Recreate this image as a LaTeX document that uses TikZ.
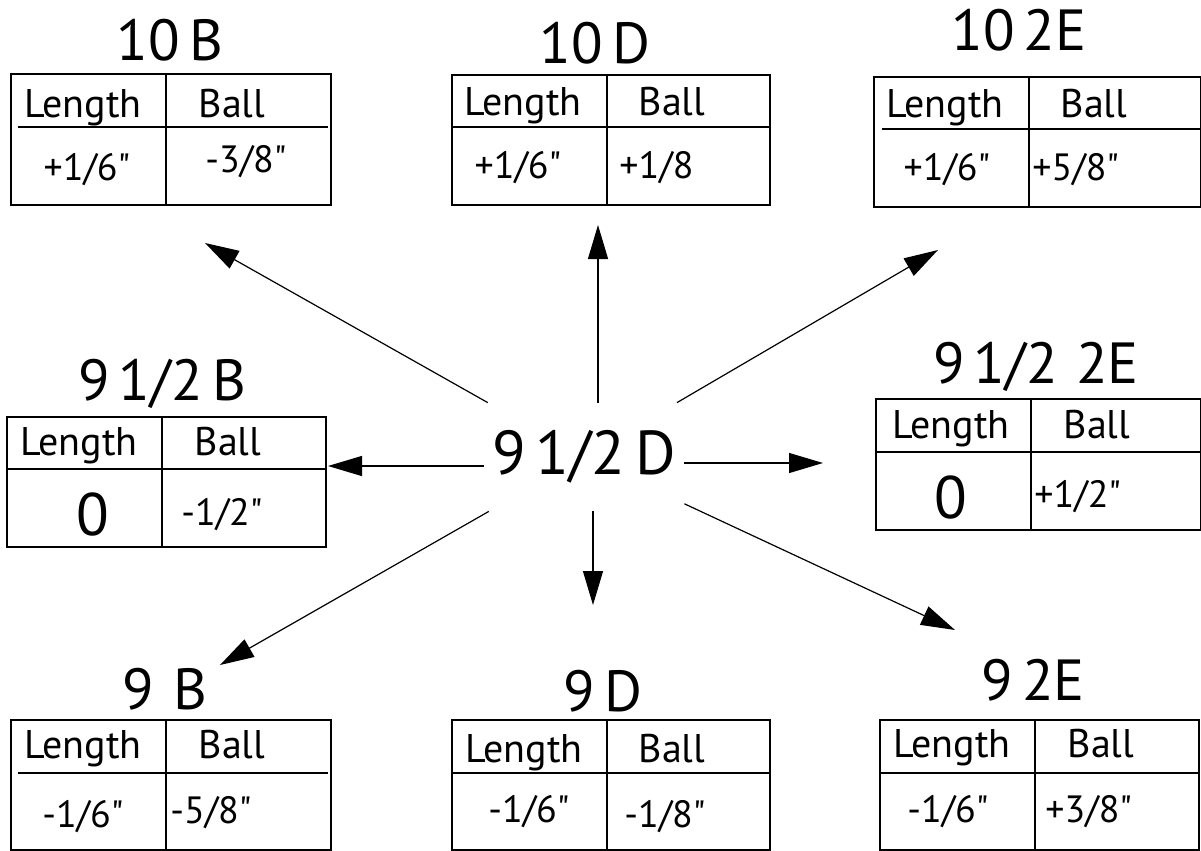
\documentclass[tikz,border=0pt]{standalone}
\usepackage{fontspec}
\setmainfont{PT Sans}[WordSpace=0.6]
\usepackage{tikz}
\usetikzlibrary{calc}
\usetikzlibrary{arrows.meta}

\begin{document}
\begin{tikzpicture}[x=0.5pt,y=-0.5pt,
		frame/.style={line width=1.2pt},
		title/.style={anchor=base, inner sep=0pt, font=\fontsize{29}{29}\selectfont},
		head/.style={anchor=base, inner sep=0pt, font=\fontsize{20}{20}\selectfont},
		val/.style={anchor=base, inner sep=0pt, font=\fontsize{19}{19}\selectfont},
		ballval/.style={anchor=base west, inner sep=0pt, font=\fontsize{19}{19}\selectfont},
		zero/.style={anchor=base, inner sep=0pt, font=\fontsize{30}{30}\selectfont},
		arr/.style={line width=0.6pt, -{Triangle[length=17pt,width=10pt]}}]
				\useasboundingbox (0,0) rectangle (1201,851);
				
				% centre
				\node[font=\fontsize{31}{31}\selectfont, minimum width=100pt, minimum height=54pt, inner sep=0pt] (c) at (584,457) {9 1/2 D};
				
				% 10 B
				\draw[frame] (11,74) rectangle (331,205) (166,74) -- (166,205) (18,127) -- (328,127);
				\node[title] (h10B) at (170,61) {10 B};
				\node[head] (len10B) at (83,117) {Length};
				\node[head] (ball10B) at (232,117) {Ball};
				\node[val] (lv10B) at (87,180) {+1/6\textquotedbl};
				\node[ballval] (bv10B) at (205,172) {-3/8\textquotedbl};
				
				% 10 D
				\draw[frame] (452,75) rectangle (770,205) (607,75) -- (607,205) (452,127) -- (770,127);
				\node[title] (h10D) at (595,63) {10 D};
				\node[head] (len10D) at (523,115) {Length};
				\node[head] (ball10D) at (672,115) {Ball};
				\node[val] (lv10D) at (518,178) {+1/6\textquotedbl};
				\node[ballval] (bv10D) at (619,178) {+1/8};
				
				% 10 2E
				\draw[frame] (874,77) rectangle (1201,207) (1029,77) -- (1029,207) (882,129) -- (1201,129);
				\node[title] (h102E) at (1019,50) {10 2E};
				\node[head] (len102E) at (945,117) {Length};
				\node[head] (ball102E) at (1094,117) {Ball};
				\node[val] (lv102E) at (947,180) {+1/6\textquotedbl};
				\node[ballval] (bv102E) at (1032,180) {+5/8\textquotedbl};
				
				% 9 1/2 B
				\draw[frame] (7,417) rectangle (326,547) (162,417) -- (162,547) (7,469) -- (326,469);
				\node[title] (h912B) at (162,400) {9 1/2 B};
				\node[head] (len912B) at (79,455) {Length};
				\node[head] (ball912B) at (228,455) {Ball};
				\node[zero] (lv912B) at (93,535) {0};
				\node[ballval] (bv912B) at (181,525) {-1/2\textquotedbl};
				
				% 9 1/2 2E
				\draw[frame] (876,399) rectangle (1201,530) (1031,399) -- (1031,530) (876,452) -- (1201,452);
				\node[title] (h9122E) at (1036,383) {9 1/2~~2E};
				\node[head] (len9122E) at (951,438) {Length};
				\node[head] (ball9122E) at (1097,438) {Ball};
				\node[zero] (lv9122E) at (951,518) {0};
				\node[ballval] (bv9122E) at (1034,507) {+1/2\textquotedbl};
				
				% 9 B
				\draw[frame] (11,720) rectangle (331,850) (166,720) -- (166,850) (18,773) -- (328,773);
				\node[title] (h9B) at (165,709) {9~~B};
				\node[head] (len9B) at (83,758) {Length};
				\node[head] (ball9B) at (232,758) {Ball};
				\node[val] (lv9B) at (83,827) {-1/6\textquotedbl};
				\node[ballval] (bv9B) at (170,823) {-5/8\textquotedbl};
				
				% 9 D
				\draw[frame] (452,720) rectangle (770,850) (607,720) -- (607,850) (452,773) -- (770,773);
				\node[title] (h9D) at (603,711) {9 D};
				\node[head] (len9D) at (524,762) {Length};
				\node[head] (ball9D) at (672,762) {Ball};
				\node[val] (lv9D) at (529,822) {-1/6\textquotedbl};
				\node[ballval] (bv9D) at (624,827) {-1/8\textquotedbl};
				
				% 9 2E
				\draw[frame] (880,720) rectangle (1199,850) (1035,720) -- (1035,850) (880,773) -- (1199,773);
				\node[title] (h92E) at (1033,700) {9 2E};
				\node[head] (len92E) at (952,757) {Length};
				\node[head] (ball92E) at (1101,757) {Ball};
				\node[val] (lv92E) at (948,822) {-1/6\textquotedbl};
				\node[ballval] (bv92E) at (1045,822) {+3/8\textquotedbl};
				
				% arrow tips
				\coordinate (p10B) at (205,243);
				\coordinate (p10D) at (598,225);
				\coordinate (p102E) at (938,250);
				\coordinate (p912B) at (328,466);
				\coordinate (p9122E) at (823,463);
				\coordinate (p9B) at (220,665);
				\coordinate (p9D) at (593,605);
				\coordinate (p92E) at (955,630);
				
				\draw[arr] (c) -- (p10B);
				\draw[arr] (c.north -| p10D) -- (p10D);
				\draw[arr] (c) -- (p102E);
				\draw[arr] (c.west |- p912B) -- (p912B);
				\draw[arr] (c.east |- p9122E) -- (p9122E);
				\draw[arr] (c) -- (p9B);
				\draw[arr] (c.south -| p9D) -- (p9D);
				\draw[arr] (c) -- (p92E);
			\end{tikzpicture}
\end{document}
